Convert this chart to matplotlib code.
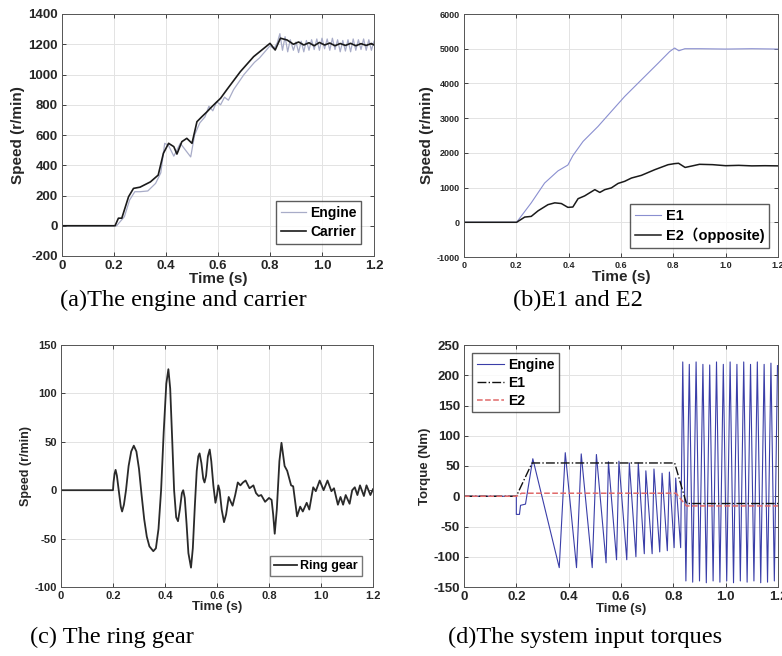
import matplotlib
matplotlib.use("Agg")
import matplotlib.pyplot as plt

plt.rcParams['font.family'] = ['Liberation Sans', 'Noto Sans CJK SC', 'DejaVu Sans']
plt.rcParams['font.weight'] = 'bold'
plt.rcParams['axes.unicode_minus'] = False

# ---------------- data ----------------
# (a) engine and carrier speed
a_engine_t = [0, 0.2, 0.21, 0.225, 0.24, 0.26, 0.28, 0.30, 0.33, 0.36, 0.38, 0.395, 0.41, 0.43,
              0.455, 0.475, 0.495, 0.51, 0.53, 0.55, 0.565, 0.58, 0.595, 0.61, 0.625, 0.64, 0.66,
              0.68, 0.70, 0.72, 0.74, 0.76, 0.78, 0.80, 0.815, 0.828, 0.838, 0.848, 0.858, 0.868,
              0.878, 0.89, 0.90, 0.91, 0.92, 0.93, 0.94, 0.95, 0.96, 0.97, 0.98, 0.99, 1.0, 1.01,
              1.02, 1.03, 1.04, 1.05, 1.06, 1.07, 1.08, 1.09, 1.10, 1.11, 1.12, 1.13, 1.14, 1.15,
              1.16, 1.17, 1.18, 1.19, 1.2]
a_engine_v = [0, 0, 0, 30, 60, 170, 225, 225, 230, 280, 350, 545, 530, 460,
              545, 500, 455, 600, 680, 720, 790, 760, 820, 800, 850, 830, 900,
              950, 1000, 1040, 1080, 1110, 1150, 1190, 1170, 1210, 1270, 1160, 1250, 1150,
              1230, 1160, 1215, 1145, 1220, 1150, 1225, 1160, 1230, 1165, 1235, 1160, 1240, 1170,
              1235, 1160, 1240, 1165, 1230, 1150, 1225, 1155, 1230, 1150, 1235, 1160, 1230, 1165,
              1235, 1160, 1230, 1160, 1220]
a_carrier_t = [0, 0.204, 0.217, 0.23, 0.256, 0.275, 0.30, 0.34, 0.37, 0.39, 0.41, 0.43, 0.442,
               0.461, 0.48, 0.50, 0.519, 0.538, 0.558, 0.57, 0.59, 0.61, 0.635, 0.686, 0.737,
               0.80, 0.82, 0.84, 0.866, 0.89, 0.91, 0.93, 0.95, 0.97, 0.99, 1.01, 1.03, 1.05,
               1.07, 1.09, 1.11, 1.13, 1.15, 1.17, 1.19, 1.2]
a_carrier_v = [0, 0, 50, 50, 192, 247, 255, 290, 335, 479, 545, 523, 474,
               556, 578, 545, 688, 721, 754, 776, 810, 843, 902, 1019, 1118,
               1206, 1162, 1240, 1228, 1200, 1215, 1195, 1210, 1190, 1212, 1195, 1208, 1190,
               1205, 1192, 1206, 1190, 1204, 1192, 1205, 1195]

# (b) E1 and E2 speed
b_e1_t = [0, 0.201, 0.257, 0.308, 0.359, 0.397, 0.416, 0.455, 0.512, 0.563, 0.614, 0.678,
          0.742, 0.786, 0.805, 0.821, 0.844, 0.9, 1.0, 1.1, 1.2]
b_e1_v = [0, 0, 560, 1130, 1480, 1650, 1920, 2330, 2760, 3193, 3624, 4104,
          4583, 4918, 5020, 4940, 5000, 5000, 4990, 5000, 4990]
b_e2_t = [0, 0.201, 0.232, 0.257, 0.283, 0.321, 0.347, 0.372, 0.397, 0.416, 0.436, 0.461,
          0.487, 0.50, 0.519, 0.538, 0.563, 0.589, 0.614, 0.64, 0.678, 0.729, 0.78, 0.805,
          0.82, 0.845, 0.87, 0.9, 0.95, 1.0, 1.05, 1.1, 1.15, 1.2]
b_e2_v = [0, 0, 150, 170, 330, 508, 560, 540, 430, 440, 680, 760,
          880, 940, 860, 940, 990, 1120, 1180, 1275, 1352, 1515, 1659, 1690,
          1700, 1580, 1620, 1670, 1660, 1630, 1640, 1625, 1630, 1625]

# (c) ring gear speed
c_ring_t = [0, 0.2, 0.202, 0.206, 0.21, 0.215, 0.222, 0.23, 0.235, 0.242, 0.25, 0.26, 0.27,
            0.28, 0.29, 0.30, 0.31, 0.32, 0.33, 0.34, 0.355, 0.365, 0.375, 0.385, 0.395,
            0.405, 0.413, 0.42, 0.428, 0.435, 0.443, 0.45, 0.457, 0.465, 0.47, 0.476, 0.483,
            0.49, 0.5, 0.507, 0.515, 0.522, 0.528, 0.533, 0.54, 0.547, 0.552, 0.558, 0.565,
            0.572, 0.578, 0.586, 0.594, 0.6, 0.605, 0.61, 0.618, 0.627, 0.635, 0.645, 0.653,
            0.66, 0.67, 0.68, 0.69, 0.70, 0.71, 0.725, 0.74, 0.75, 0.76, 0.77, 0.785, 0.80,
            0.81, 0.816, 0.822, 0.83, 0.84, 0.848, 0.86, 0.87, 0.885, 0.893, 0.908, 0.92,
            0.93, 0.945, 0.955, 0.97, 0.98, 0.995, 1.01, 1.025, 1.04, 1.05, 1.065, 1.075,
            1.085, 1.095, 1.11, 1.12, 1.13, 1.14, 1.15, 1.165, 1.175, 1.19, 1.2]
c_ring_v = [0, 0, 8, 17, 21, 15, 0, -17, -22, -15, 0, 25, 40,
            46, 40, 22, -5, -30, -48, -58, -63, -60, -40, 0, 60,
            110, 125, 105, 50, 0, -28, -32, -20, -3, 0, -8, -35,
            -65, -80, -60, -15, 20, 35, 38, 28, 12, 8, 15, 35,
            42, 30, 5, -13, -5, 5, 0, -20, -33, -25, -7, -12,
            -16, -5, 8, 5, 8, 10, 2, 5, -3, -6, -5, -12, -8,
            -10, -25, -45, -20, 30, 49, 25, 20, 5, 4, -27, -17,
            -22, -13, -20, 3, -1, 10, 0, 10, -1, 2, -15, -7,
            -15, -5, -14, 0, 3, -5, 5, -6, 5, -5, 1]

# (d) system input torques
d_engine_t = [0, 0.2, 0.2, 0.212, 0.216, 0.235, 0.263, 0.364, 0.387, 0.43, 0.448, 0.49, 0.506,
              0.543, 0.552, 0.583, 0.592, 0.622, 0.632, 0.657, 0.666, 0.689, 0.695, 0.719,
              0.726, 0.748, 0.757, 0.777, 0.785, 0.803, 0.809, 0.828, 0.836, 0.848, 0.861,
              0.874, 0.887, 0.9, 0.913, 0.926, 0.939, 0.952, 0.965, 0.978, 0.991, 1.004,
              1.017, 1.03, 1.043, 1.056, 1.069, 1.082, 1.095, 1.108, 1.121, 1.134, 1.147,
              1.16, 1.173, 1.186, 1.198]
d_engine_v = [0, 0, -30, -30, -15, -13, 62, -118, 72, -118, 70, -118, 69,
              -110, 57, -105, 58, -105, 55, -100, 55, -95, 42, -95,
              45, -92, 38, -90, 40, -85, 30, -85, 222, -140, 218,
              -142, 222, -140, 218, -143, 217, -140, 222, -142, 218, -140,
              222, -143, 218, -140, 222, -142, 218, -140, 222, -143, 218,
              -142, 220, -140, 216]
d_e1_t = [0, 0.2, 0.26, 0.805, 0.85, 1.2]
d_e1_v = [0, 0, 55, 55, -12, -12]
d_e2_t = [0, 0.2, 0.22, 0.81, 0.85, 1.2]
d_e2_v = [0, 0, 5, 5, -16, -16]

x_ticks = [0, 0.2, 0.4, 0.6, 0.8, 1.0, 1.2]
x_labels = ['0', '0.2', '0.4', '0.6', '0.8', '1.0', '1.2']

# ---------------- figure ----------------
fig = plt.figure(figsize=(7.82, 6.56), dpi=100)


def px_axes(l, t, r, b):
    W, H = 782, 656
    return fig.add_axes([l / W, 1 - b / H, (r - l) / W, (b - t) / H])


def style(ax, yticks, tsize, xlsize, ylsize, ylabel):
    ax.set_xlim(0, 1.2)
    ax.set_xticks(x_ticks)
    ax.set_xticklabels(x_labels)
    ax.set_yticks(yticks)
    ax.set_ylim(yticks[0], yticks[-1])
    ax.grid(True, color='#e3e3e3', lw=0.7)
    ax.set_axisbelow(True)
    ax.tick_params(direction='in', length=3, width=0.6, top=True, right=True,
                   labelsize=tsize, colors='#262626', pad=3)
    for lab in ax.get_xticklabels() + ax.get_yticklabels():
        lab.set_fontweight('bold')
    for s in ax.spines.values():
        s.set_color('#555555')
        s.set_linewidth(0.7)
    ax.set_xlabel('Time (s)', fontsize=xlsize, fontweight='bold', labelpad=0, color='#262626')
    ax.set_ylabel(ylabel, fontsize=ylsize, fontweight='bold', labelpad=2, color='#262626')


def boldleg(leg):
    for t in leg.get_texts():
        t.set_fontweight('bold')


# (a)
ax = px_axes(62, 14, 374, 256)
ax.plot(a_engine_t, a_engine_v, color='#a8acc8', lw=0.9, label='Engine')
ax.plot(a_carrier_t, a_carrier_v, color='#1a1a1a', lw=1.2, label='Carrier')
style(ax, list(range(-200, 1401, 200)), 9.5, 11, 11, 'Speed (r/min)')
boldleg(ax.legend(loc='lower right', fontsize=10, frameon=True, fancybox=False,
                  edgecolor='#333333', borderpad=0.35, handlelength=1.8, handletextpad=0.3,
                  labelspacing=0.35, borderaxespad=0.9))

# (b)
ax = px_axes(464, 14, 778, 257)
ax.plot(b_e1_t, b_e1_v, color='#8a8fd0', lw=0.8, label='E1')
ax.plot(b_e2_t, b_e2_v, color='#1a1a1a', lw=1.1, label='E2（opposite)')
style(ax, list(range(-1000, 6001, 1000)), 6.5, 11, 11, 'Speed (r/min)')
boldleg(ax.legend(loc='lower right', fontsize=10.5, frameon=True, fancybox=False,
                  edgecolor='#333333', borderpad=0.35, handlelength=1.8, handletextpad=0.3,
                  labelspacing=0.3, borderaxespad=0.6))

# (c)
ax = px_axes(61, 345, 373, 587)
ax.plot(c_ring_t, c_ring_v, color='#2a2a2a', lw=1.3, label='Ring gear')
style(ax, list(range(-100, 151, 50)), 8, 9.5, 9, 'Speed (r/min)')
boldleg(ax.legend(loc='lower right', fontsize=9, frameon=True, fancybox=False,
                  edgecolor='#555555', borderpad=0.3, handlelength=1.8, handletextpad=0.3,
                  borderaxespad=0.9))

# (d)
ax = px_axes(464, 345, 778, 587)
ax.plot(d_engine_t, d_engine_v, color='#3a3ea8', lw=0.8, label='Engine')
ax.plot(d_e1_t, d_e1_v, color='#111111', lw=1.0, ls='-.', label='E1')
ax.plot(d_e2_t, d_e2_v, color='#e06a6a', lw=1.1, ls='--', label='E2')
style(ax, list(range(-150, 251, 50)), 9.5, 9.5, 9.5, 'Torque (Nm)')
boldleg(ax.legend(loc='upper left', fontsize=10, frameon=True, fancybox=False,
                  edgecolor='#333333', borderpad=0.3, handlelength=2.0, handletextpad=0.3,
                  labelspacing=0.3, borderaxespad=0.6))

# captions
cap = dict(fontsize=17.5, family='Liberation Serif', fontweight='normal', va='center')
fig.text(60 / 782, 1 - 300 / 656, '(a)The engine and carrier', ha='left', **cap)
fig.text(513 / 782, 1 - 300 / 656, '(b)E1 and E2', ha='left', **cap)
fig.text(30 / 782, 1 - 637 / 656, '(c) The ring gear', ha='left', **cap)
fig.text(448 / 782, 1 - 637 / 656, '(d)The system input torques', ha='left', **cap)

fig.savefig('out.png', dpi=100)
